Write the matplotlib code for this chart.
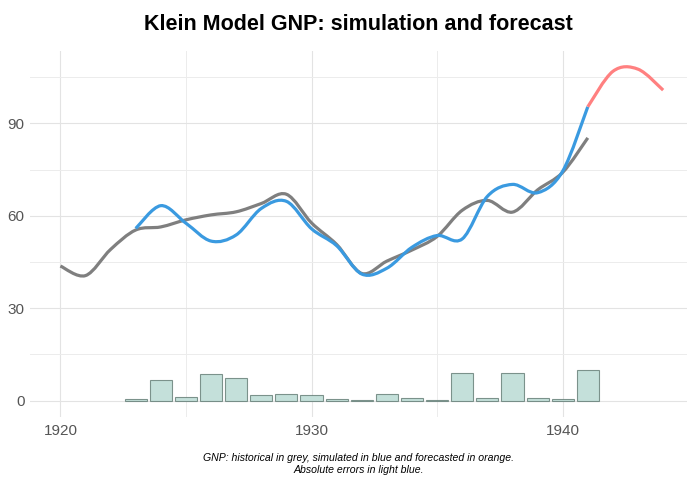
import matplotlib
matplotlib.use("Agg")
import matplotlib.pyplot as plt
from matplotlib.path import Path
from matplotlib.patches import PathPatch
from matplotlib import font_manager
import numpy as np

# ---- data ----
hist_years = list(range(1920, 1942))
hist_gnp = [43.7, 40.6, 49.1, 55.4, 56.4, 58.7, 60.3, 61.3, 64.0, 67.0, 57.7,
            50.7, 41.3, 45.3, 48.9, 53.3, 61.8, 65.0, 61.2, 68.4, 74.1, 85.3]
sim_years = list(range(1923, 1942))
sim_gnp = [55.9, 63.3, 57.6, 51.8, 53.8, 62.4, 64.7, 55.8, 50.3, 41.1,
           43.0, 49.8, 53.6, 52.5, 66.3, 70.2, 67.5, 74.5, 95.4]
abs_err = [0.5, 6.8, 1.3, 8.6, 7.5, 1.7, 2.3, 2.0, 0.4, 0.2,
           2.3, 0.9, 0.3, 9.1, 0.9, 9.0, 0.9, 0.4, 10.1]
fc_years = [1941, 1942, 1943, 1944]
fc_gnp = [95.4, 106.9, 107.6, 100.8]
x_ticks = [1920, 1930, 1940]
y_ticks = [0, 30, 60, 90]

title = "Klein Model GNP: simulation and forecast"
caption = ("GNP: historical in grey, simulated in blue and forecasted in orange.\n"
           "Absolute errors in light blue.")


def pick_font(names):
    for n in names:
        try:
            font_manager.findfont(font_manager.FontProperties(family=n),
                                  fallback_to_default=False)
            return n
        except Exception:
            continue
    return "DejaVu Sans"


narrow = pick_font(["Liberation Sans Narrow", "Liberation Sans", "DejaVu Sans"])


def smooth_path(xs, ys):
    """Catmull-Rom curve through the points, as cubic Bezier path segments."""
    pts = np.column_stack([xs, ys]).astype(float)
    n = len(pts)
    verts = [pts[0]]
    codes = [Path.MOVETO]
    for i in range(n - 1):
        p0 = pts[i - 1] if i > 0 else pts[i]
        p1 = pts[i]
        p2 = pts[i + 1]
        p3 = pts[i + 2] if i + 2 < n else pts[i + 1]
        c1 = p1 + (p2 - p0) / 6.0
        c2 = p2 - (p3 - p1) / 6.0
        verts += [c1, c2, p2]
        codes += [Path.CURVE4] * 3
    return Path(verts, codes)


fig = plt.figure(figsize=(6.87, 4.80), dpi=100)
ax = fig.add_axes([30 / 687, 63 / 480, 657 / 687, 366 / 480])

ax.set_xlim(1918.79, 1944.95)
ax.set_ylim(-5.3, 113.5)

# grid
ax.set_xticks(x_ticks)
ax.set_yticks(y_ticks)
ax.set_xticks([1925, 1935], minor=True)
ax.set_yticks([15, 45, 75, 105], minor=True)
ax.grid(True, which="major", color="#e3e3e3", linewidth=0.8)
ax.grid(True, which="minor", color="#ececec", linewidth=0.7)
ax.set_axisbelow(True)
for s in ax.spines.values():
    s.set_visible(False)
ax.tick_params(which="both", length=0)
ax.tick_params(axis="x", pad=5)
ax.tick_params(axis="y", pad=4)
for lab in ax.get_xticklabels() + ax.get_yticklabels():
    lab.set_fontfamily(narrow)
    lab.set_fontsize(11)
    lab.set_color("#555555")

# error bars
ax.bar(sim_years, abs_err, width=0.88, color="#c4e0da",
       edgecolor=(0.35, 0.45, 0.42, 0.75), linewidth=0.8, zorder=2)

# lines
ax.add_patch(PathPatch(smooth_path(hist_years, hist_gnp), fill=False,
                       edgecolor="#7f7f7f", linewidth=2.3, zorder=3,
                       capstyle="butt", joinstyle="round"))
ax.add_patch(PathPatch(smooth_path(sim_years, sim_gnp), fill=False,
                       edgecolor="#3a9ae0", linewidth=2.3, zorder=4,
                       capstyle="butt", joinstyle="round"))
ax.add_patch(PathPatch(smooth_path(fc_years, fc_gnp), fill=False,
                       edgecolor="#ff8080", linewidth=2.3, zorder=5,
                       capstyle="butt", joinstyle="round"))

fig.text((30 + 687) / 2 / 687, 1 - 24 / 480, title, ha="center", va="center",
         fontsize=15.5, fontweight="bold", fontfamily=narrow, color="black")
fig.text((30 + 687) / 2 / 687, 1 - 464 / 480, caption, ha="center", va="center",
         fontsize=7.6, fontstyle="italic", fontfamily=narrow, color="black",
         linespacing=1.25)

fig.savefig("out.png", dpi=100)
